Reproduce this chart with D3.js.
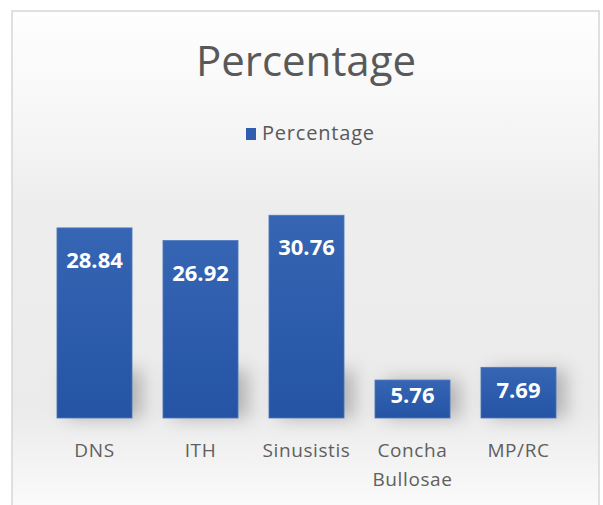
<!DOCTYPE html>
<html>
<head>
<meta charset="utf-8">
<script src="https://cdn.jsdelivr.net/npm/d3@7"></script>
<style>
  body { margin: 0; background: #fff; }
  svg { display: block; font-family: "Open Sans", sans-serif; }
</style>
</head>
<body>
<svg id="chart"></svg>
<script>
// Data
const categories = ["DNS", "ITH", "Sinusistis", "Concha Bullosae", "MP/RC"];
const values = [28.84, 26.92, 30.76, 5.76, 7.69];
const seriesName = "Percentage";

const width = 603;
const height = 505;

const svg = d3.select("#chart")
    .attr("width", width)
    .attr("height", height);

const defs = svg.append("defs");

// chart area background
const bg = defs.append("linearGradient").attr("id", "bgGrad")
    .attr("x1", 0).attr("y1", 0).attr("x2", 0).attr("y2", 1);
bg.append("stop").attr("offset", "0%").attr("stop-color", "#fefefe");
bg.append("stop").attr("offset", "18%").attr("stop-color", "#f8f8f8");
bg.append("stop").attr("offset", "40%").attr("stop-color", "#ededed");
bg.append("stop").attr("offset", "80%").attr("stop-color", "#ebebeb");
bg.append("stop").attr("offset", "100%").attr("stop-color", "#fbfbfb");

const barGrad = defs.append("linearGradient").attr("id", "barGrad")
    .attr("x1", 0).attr("y1", 0).attr("x2", 0).attr("y2", 1);
barGrad.append("stop").attr("offset", "0%").attr("stop-color", "#3565b3");
barGrad.append("stop").attr("offset", "100%").attr("stop-color", "#2554a5");

defs.append("filter").attr("id", "blur")
    .attr("x", "-50%").attr("y", "-50%").attr("width", "200%").attr("height", "200%")
    .append("feGaussianBlur").attr("stdDeviation", 9);

svg.append("rect")
    .attr("x", 12).attr("y", 11)
    .attr("width", 587).attr("height", 500)
    .attr("fill", "url(#bgGrad)")
    .attr("stroke", "#d6d6d6")
    .attr("stroke-width", 1.5);

// Title
svg.append("text")
    .attr("x", 306).attr("y", 76)
    .attr("text-anchor", "middle")
    .attr("font-size", 42)
    .attr("fill", "#595959")
    .text(seriesName);

// Legend
svg.append("rect")
    .attr("x", 246).attr("y", 128)
    .attr("width", 10).attr("height", 12)
    .attr("fill", "#2f5eae");
svg.append("text")
    .attr("x", 262).attr("y", 140)
    .attr("font-size", 20)
    .attr("letter-spacing", 0.8)
    .attr("fill", "#595959")
    .text(seriesName);

// Scales
const x = d3.scaleBand()
    .domain(categories)
    .range([41.5, 571.5])
    .paddingInner(0.292)
    .paddingOuter(0.146);

const y = d3.scaleLinear()
    .domain([0, 35])
    .range([418, 187.3]);

// soft shadow behind bar bottoms
svg.append("g")
    .selectAll("rect")
    .data(values)
    .join("rect")
    .attr("x", (d, i) => x(categories[i]) + 10)
    .attr("y", d => Math.max(y(d), 370))
    .attr("width", x.bandwidth())
    .attr("height", d => 418 - Math.max(y(d), 370))
    .attr("fill", "#7a7a7a")
    .attr("opacity", 0.5)
    .attr("filter", "url(#blur)");

// Bars
svg.append("g")
    .selectAll("rect")
    .data(values)
    .join("rect")
    .attr("x", (d, i) => x(categories[i]))
    .attr("y", d => y(d))
    .attr("width", x.bandwidth())
    .attr("height", d => y(0) - y(d))
    .attr("fill", "url(#barGrad)")
    .attr("stroke", "#4d78c0")
    .attr("stroke-width", 0.8);

// Value labels
svg.append("g")
    .selectAll("text")
    .data(values)
    .join("text")
    .attr("x", (d, i) => x(categories[i]) + x.bandwidth() / 2)
    .attr("y", d => y(d) + Math.min(40, (y(0) - y(d)) * 0.6))
    .attr("text-anchor", "middle")
    .attr("font-size", 22)
    .attr("font-weight", "bold")
    .attr("fill", "#ffffff")
    .text(d => d.toFixed(2));

// Category axis
const xAxis = svg.append("g")
    .attr("transform", "translate(0,418)")
    .call(d3.axisBottom(x).tickSize(0).tickPadding(0));
xAxis.select(".domain").remove();
xAxis.selectAll("text")
    .attr("font-family", "Open Sans, sans-serif")
    .attr("font-size", 19)
    .attr("letter-spacing", 0.6)
    .attr("fill", "#5f5f5f")
    .attr("dy", null)
    .attr("y", 39)
    .each(function(d) {
        const words = d.split(" ");
        const t = d3.select(this).text(null);
        words.forEach((w, i) => {
            t.append("tspan")
                .attr("x", 0)
                .attr("dy", i === 0 ? 0 : 29)
                .text(w);
        });
    });
</script>
</body>
</html>
